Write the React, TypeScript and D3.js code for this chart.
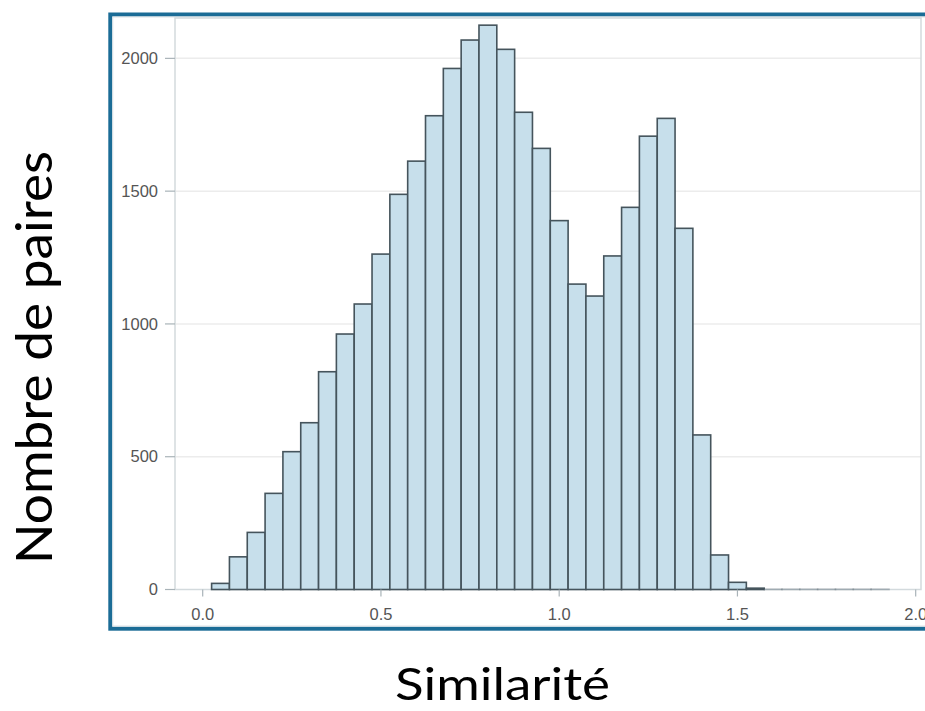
import React from "react";
import * as d3 from "d3";

const binCenters = [
  0.05, 0.1, 0.15, 0.2, 0.25, 0.3, 0.35, 0.4, 0.45, 0.5, 0.55, 0.6, 0.65, 0.7, 0.75, 0.8,
  0.85, 0.9, 0.95, 1.0, 1.05, 1.1, 1.15, 1.2, 1.25, 1.3, 1.35, 1.4, 1.45, 1.5, 1.55,
  1.6, 1.65, 1.7, 1.75, 1.8, 1.85, 1.9,
];
const counts = [
  23, 123, 215, 362, 519, 628, 820, 962, 1075, 1263, 1488, 1613, 1784, 1962, 2069, 2125,
  2034, 1797, 1661, 1389, 1150, 1105, 1256, 1439, 1707, 1774, 1360, 582, 130, 27, 5,
  1, 1, 1, 1, 1, 1, 1,
];
const binWidth = 0.05;
const xTicks = [0, 0.5, 1.0, 1.5, 2.0];
const yTicks = [0, 500, 1000, 1500, 2000];
const xTitle = "Similarité";
const yTitle = "Nombre de paires";

export default function App() {
  const left = 175, right = 921, top = 18, bottom = 589.5;
  const x = d3.scaleLinear().domain([-0.0777, 2.0149]).range([left, right]);
  const y = d3.scaleLinear().domain([0, 2152]).range([bottom, top]);
  const bars = binCenters.map((c, i) => ({ x0: c - binWidth / 2, x1: c + binWidth / 2, v: counts[i] }));
  const fmtX = d3.format(".1f");

  return (
    <svg width={925} height={711} style={{ position: "absolute", left: 0, top: 0, background: "#fff" }}>
      {/* outer blue frame */}
      <rect x={110.3} y={14.5} width={840} height={614.2} fill="#fff" stroke="#1b6c96" strokeWidth={4} />
      <rect x={112.8} y={17} width={830} height={609} fill="none" stroke="#dde3e6" strokeWidth={1} />
      {/* gridlines */}
      {yTicks.filter((t) => t > 0).map((t) => (
        <line key={t} x1={left} x2={right} y1={y(t)} y2={y(t)} stroke="#ececec" strokeWidth={1.5} />
      ))}
      {/* plot frame */}
      <rect x={left} y={top} width={right - left} height={bottom - top} fill="none" stroke="#d3dadd" strokeWidth={1.5} />
      {/* bars */}
      {bars.map((b, i) => (
        <rect
          key={i}
          x={x(b.x0)}
          y={y(b.v)}
          width={x(b.x1) - x(b.x0)}
          height={bottom - y(b.v)}
          fill="#c7dfeb"
          stroke="#45545c"
          strokeOpacity={b.v <= 1 ? 0.35 : 1}
          strokeWidth={1.6}
        />
      ))}
      {/* y axis ticks */}
      {yTicks.map((t) => (
        <g key={t}>
          <line x1={165} x2={left} y1={y(t)} y2={y(t)} stroke="#a9b3b8" strokeWidth={1.2} />
          <text x={158} y={y(t)} dy="0.35em" textAnchor="end" fontFamily="Liberation Sans, Arial, sans-serif" fontSize={16.5} fill="#555">
            {t}
          </text>
        </g>
      ))}
      {/* x axis ticks */}
      {xTicks.map((t) => (
        <g key={t}>
          <line x1={x(t)} x2={x(t)} y1={bottom} y2={bottom + 7} stroke="#a9b3b8" strokeWidth={1.2} />
          <text x={x(t)} y={620} textAnchor="middle" fontFamily="Liberation Sans, Arial, sans-serif" fontSize={16.5} fill="#555">
            {fmtX(t)}
          </text>
        </g>
      ))}
      {/* axis titles */}
      <text
        x={502.5}
        y={700}
        textAnchor="middle"
        fontFamily="Lato, 'Open Sans', sans-serif"
        fontSize={44}
        fill="#000"
        textLength={215}
        lengthAdjust="spacingAndGlyphs"
      >
        {xTitle}
      </text>
      <text
        transform="translate(52,357.5) rotate(-90)"
        textAnchor="middle"
        fontFamily="Lato, 'Open Sans', sans-serif"
        fontSize={51}
        fill="#000"
        textLength={413}
        lengthAdjust="spacingAndGlyphs"
      >
        {yTitle}
      </text>
    </svg>
  );
}
